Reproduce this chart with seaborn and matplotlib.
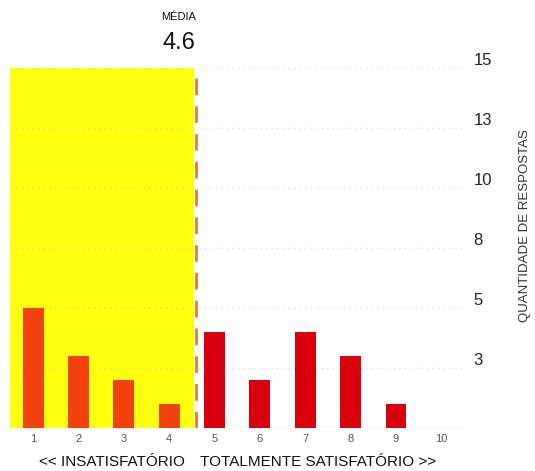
import pandas as pd
import numpy as np
from matplotlib import pyplot as plt
from matplotlib import transforms
import seaborn as sns

# Data
notas = [1, 2, 3, 4, 5, 6, 7, 8, 9, 10]
respostas = [5, 3, 2, 1, 4, 2, 4, 3, 1, 0]
grupo = ["baixa"] * 4 + ["alta"] * 6
media = 4.6
y_ticks = [2.5, 5, 7.5, 10, 12.5, 15]
y_labels = ["3", "5", "8", "10", "13", "15"]

df = pd.DataFrame({"nota": notas, "respostas": respostas, "grupo": grupo})

sns.set_style("white")
plt.rcParams['font.family'] = ['Liberation Sans', 'DejaVu Sans']

fig = plt.figure(figsize=(5.35, 4.71), dpi=100)
ax = fig.add_axes([0.0196, 0.0913, 0.8476, 0.7643])

# Yellow area up to the mean
ax.axvspan(0.5, media - 0.05, color="#ffff10", zorder=0, lw=0)

# Dotted gridlines
for t in y_ticks:
    ax.axhline(t, color="#b8b8b8", ls=(0, (1, 3)), lw=1, alpha=0.5, zorder=0.5)
ax.axhline(0, color="#f2b8b8", lw=1, zorder=0.6)

sns.barplot(data=df, x="nota", y="respostas", hue="grupo", native_scale=True,
            palette={"baixa": "#f2420e", "alta": "#d8000f"}, width=0.46,
            dodge=False, legend=False, saturation=1, linewidth=0,
            ax=ax, zorder=2)

# Mean line
ax.axvline(media, color="#e8801e", lw=2, ls=(0, (6, 4)), zorder=3)

ax.set_xlim(0.5, 10.5)
ax.set_ylim(0, 15)
ax.set_xticks(notas)
ax.set_xticklabels([str(n) for n in notas], fontsize=8, color="#555555")
ax.yaxis.tick_right()
ax.set_yticks(y_ticks)
ax.set_yticklabels(y_labels, fontsize=12, color="#222222")
for lab in ax.get_yticklabels():
    lab.set_va("bottom")
ax.tick_params(axis="y", length=0, pad=7)
ax.tick_params(axis="x", length=0, pad=4)
ax.set_xlabel("")
ax.set_ylabel("")
sns.despine(ax=ax, left=True, bottom=True, right=True, top=True)

# Mean annotation
blend = transforms.blended_transform_factory(ax.transData, fig.transFigure)
ax.text(media - 0.02, 1 - 17 / 471, "MÉDIA", transform=blend, ha="right",
        va="center", fontsize=8, color="#111111")
ax.text(media - 0.02, 1 - 43 / 471, "4.6", transform=blend, ha="right",
        va="center", fontsize=17, color="#111111")

# Scale labels under the axis
ax.text(media - 0.25, 1 - 462 / 471, "<< INSATISFATÓRIO", transform=blend,
        ha="right", va="center", fontsize=11, color="#111111")
ax.text(media + 0.08, 1 - 462 / 471, "TOTALMENTE SATISFATÓRIO >>", transform=blend,
        ha="left", va="center", fontsize=11, color="#111111")

fig.text(525 / 535, 1 - 226 / 471, "QUANTIDADE DE RESPOSTAS", rotation=90,
         ha="center", va="center", fontsize=9.5, color="#333333")

fig.savefig("out.png", dpi=100, facecolor="white")
